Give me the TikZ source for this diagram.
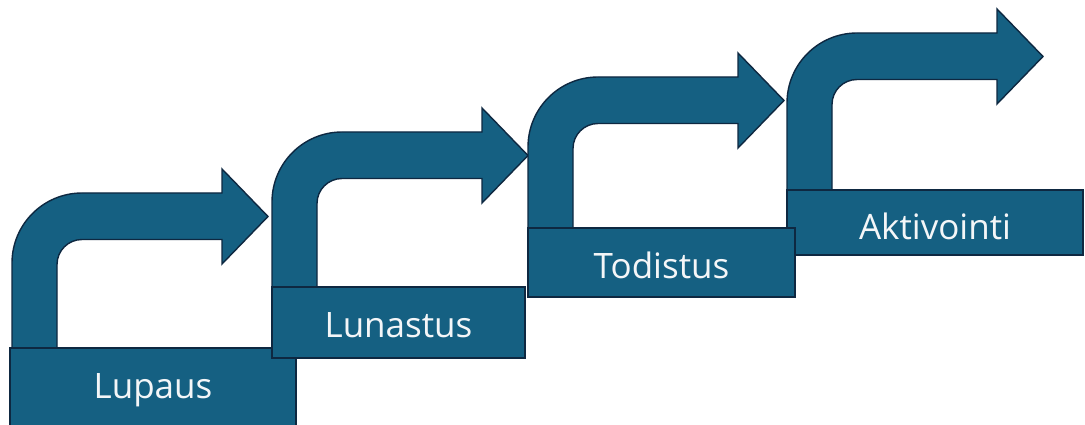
\documentclass[tikz,border=0pt]{standalone}
\usepackage{fontspec}
\setmainfont{Open Sans}
\definecolor{stepfill}{HTML}{156082}
\definecolor{stepline}{HTML}{0E2841}
\definecolor{steptext}{HTML}{F4F6F8}
\tikzset{
  stepshape/.style={fill=stepfill, draw=stepline, line width=1.4pt, line join=miter},
  stepbox/.style={stepshape, rectangle, inner sep=0pt, outer sep=0pt, anchor=north west,
    text=steptext, font=\fontsize{35}{40}\selectfont, text depth=0pt},
}
% #1 = left x of shaft, #2 = top y of arrow, #3 = base y (top of box), #4 = name
\newcommand{\bentarrow}[4]{%
  \draw[stepshape] (#1,#3) -- (#1,#2+70)
    arc[start angle=180, end angle=270, radius=70]
    -- (#1+210,#2) -- (#1+210,#2-24) -- (#1+256,#2+23.5) -- (#1+210,#2+71)
    -- (#1+210,#2+46.5) -- (#1+45+25,#2+46.5)
    arc[start angle=270, end angle=180, radius=25]
    -- (#1+45,#3) -- cycle;
  \coordinate (#4) at (#1,#2);
}
\begin{document}
\begin{tikzpicture}[x=1pt, y=-1pt]
\useasboundingbox (0,0) rectangle (1085,425);
% step 1
\bentarrow{12}{193}{348}{a1}
\node[stepbox, minimum width=286pt, minimum height=84pt, text height=16pt] (b1) at (10,348) {Lupaus};
% step 2
\bentarrow{272}{132}{287}{a2}
\node[stepbox, minimum width=253pt, minimum height=71pt, text height=29pt] (b2) at (272,287) {Lunastus};
% step 4 (behind step 3 box)
\bentarrow{787}{33}{190}{a4}
\node[stepbox, minimum width=296pt, minimum height=65pt, text height=35pt] (b4) at (787,190) {Aktivointi};
% step 3
\bentarrow{528}{77}{228}{a3}
\node[stepbox, minimum width=267pt, minimum height=69pt, text height=31pt] (b3) at (528,228) {Todistus};
\end{tikzpicture}
\end{document}
